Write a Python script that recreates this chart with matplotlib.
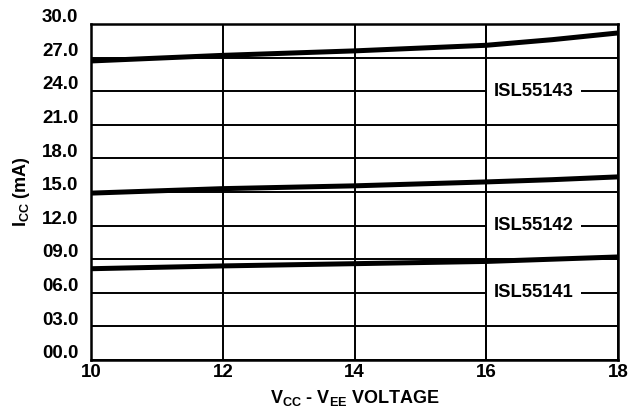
import matplotlib
matplotlib.use("Agg")
import matplotlib.pyplot as plt
from matplotlib.transforms import ScaledTranslation

plt.rcParams['font.family'] = ['Liberation Sans', 'DejaVu Sans']
plt.rcParams['font.weight'] = 'bold'
plt.rcParams['mathtext.fontset'] = 'custom'
plt.rcParams['mathtext.rm'] = 'Liberation Sans:bold'
plt.rcParams['mathtext.bf'] = 'Liberation Sans:bold'
plt.rcParams['mathtext.it'] = 'Liberation Sans:bold'

# Data
voltage = [10, 12, 14, 16, 17, 18]
isl55143 = [26.7, 27.2, 27.6, 28.1, 28.6, 29.2]
isl55142 = [14.9, 15.3, 15.55, 15.9, 16.1, 16.35]
isl55141 = [8.15, 8.4, 8.6, 8.8, 9.0, 9.2]
series_names = ["ISL55143", "ISL55142", "ISL55141"]
label_y = [24, 12, 6]
label_x = 16.72

x_ticks = [10, 12, 14, 16, 18]
y_ticks = [0, 3, 6, 9, 12, 15, 18, 21, 24, 27, 30]
y_tick_labels = ["00.0", "03.0", "06.0", "09.0", "12.0", "15.0",
                 "18.0", "21.0", "24.0", "27.0", "30.0"]

fig = plt.figure(figsize=(6.33, 4.11), dpi=100)
ax = fig.add_axes([91/633, 1 - 360/411, (618-91)/633, (360-24)/411])

for s in (isl55143, isl55142, isl55141):
    ax.plot(voltage, s, color='black', lw=3.6, solid_capstyle='butt', zorder=3)

ax.set_xlim(10, 18)
ax.set_ylim(0, 30)
ax.set_xticks(x_ticks)
ax.set_xticklabels([str(v) for v in x_ticks])
ax.set_yticks(y_ticks)
ax.set_yticklabels(y_tick_labels)
ax.tick_params(axis='both', length=0, labelsize=13.5)
ax.tick_params(axis='y', pad=9)
ax.tick_params(axis='x', pad=3)
for lab in ax.get_yticklabels():
    lab.set_transform(lab.get_transform() + ScaledTranslation(0, 6/72, fig.dpi_scale_trans))
    lab.set_fontweight('bold')
for lab in ax.get_xticklabels():
    lab.set_fontweight('bold')

ax.grid(True, color='black', lw=1.4, zorder=1)
ax.set_axisbelow(True)
for sp in ax.spines.values():
    sp.set_linewidth(1.8)

for name, yy in zip(series_names, label_y):
    ax.text(label_x, yy, name, ha='center', va='center', fontsize=13.2,
            fontweight='bold', zorder=4,
            bbox=dict(facecolor='white', edgecolor='none', pad=5))
ax.axvline(16, color='black', lw=1.4, zorder=5)

ax.set_xlabel(r'$\mathrm{V_{CC}}$ - $\mathrm{V_{EE}}$ VOLTAGE', fontsize=13,
              fontweight='bold', labelpad=5)
ax.set_ylabel(r'$\mathrm{I_{CC}}$ (mA)', fontsize=13, fontweight='bold', labelpad=7)

fig.savefig("out.png", dpi=100)
